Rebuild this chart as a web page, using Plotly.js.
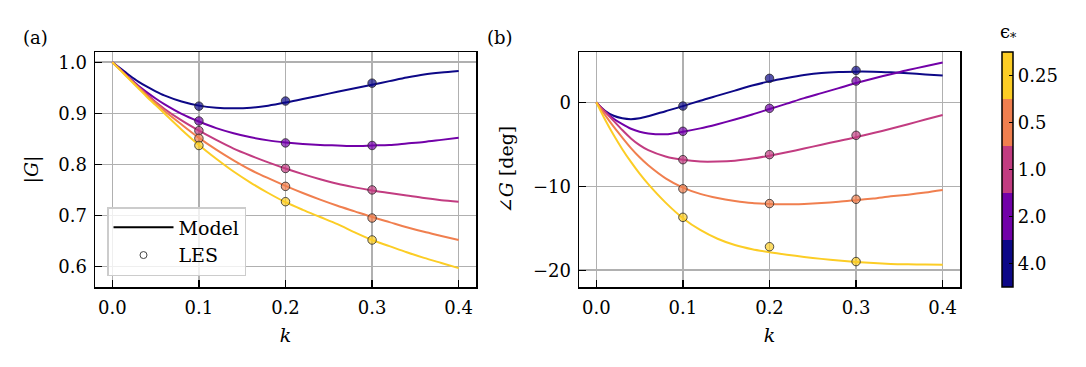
<!DOCTYPE html>
<html>
<head>
<meta charset="utf-8">
<script src="https://cdn.plot.ly/plotly-3.0.1.min.js"></script>
<style>html,body{margin:0;padding:0;background:#fff;}#chart{width:1086px;height:367px;}</style>
</head>
<body>
<div id="chart"></div>
<script>
// ---- data ----
const epsValues = ['4.0', '2.0', '1.0', '0.5', '0.25'];
const epsColors = ['#0d0887', '#7201a8', '#c23c81', '#f07f4f', '#fccd25'];

const kLES = [0.1, 0.2, 0.3];
const magLES_eps4   = [0.914, 0.924, 0.959];
const magLES_eps2   = [0.885, 0.842, 0.837];
const magLES_eps1   = [0.866, 0.792, 0.750];
const magLES_eps05  = [0.851, 0.757, 0.695];
const magLES_eps025 = [0.837, 0.727, 0.652];

const phaseLES_eps4   = [-0.44, 2.86, 3.8];
const phaseLES_eps2   = [-3.45, -0.71, 2.54];
const phaseLES_eps1   = [-6.83, -6.23, -3.93];
const phaseLES_eps05  = [-10.3, -12.06, -11.55];
const phaseLES_eps025 = [-13.7, -17.2, -18.97];

const kModel = [0, 0.01, 0.02, 0.03, 0.04, 0.05, 0.06, 0.08, 0.1, 0.12, 0.14, 0.16, 0.18, 0.2,
                0.22, 0.24, 0.26, 0.28, 0.3, 0.32, 0.34, 0.36, 0.38, 0.4];
const magModel_eps4   = [1, 0.987, 0.974, 0.962, 0.952, 0.943, 0.935, 0.923, 0.915, 0.911, 0.910, 0.911, 0.915, 0.921,
                         0.928, 0.935, 0.942, 0.949, 0.956, 0.963, 0.970, 0.976, 0.980, 0.983];
const magModel_eps2   = [1, 0.985, 0.969, 0.954, 0.941, 0.929, 0.918, 0.899, 0.884, 0.871, 0.861, 0.853, 0.847, 0.843,
                         0.840, 0.838, 0.837, 0.836, 0.837, 0.838, 0.841, 0.844, 0.848, 0.852];
const magModel_eps1   = [1, 0.984, 0.968, 0.952, 0.937, 0.922, 0.909, 0.886, 0.866, 0.848, 0.831, 0.817, 0.804, 0.792,
                         0.781, 0.771, 0.762, 0.755, 0.749, 0.744, 0.739, 0.734, 0.730, 0.727];
const magModel_eps05  = [1, 0.984, 0.967, 0.951, 0.935, 0.920, 0.905, 0.878, 0.852, 0.829, 0.808, 0.789, 0.773, 0.758,
                         0.744, 0.731, 0.719, 0.708, 0.697, 0.687, 0.677, 0.668, 0.660, 0.652];
const magModel_eps025 = [1, 0.983, 0.966, 0.949, 0.932, 0.916, 0.900, 0.868, 0.838, 0.811, 0.786, 0.764, 0.744, 0.726,
                         0.711, 0.697, 0.683, 0.667, 0.652, 0.640, 0.628, 0.617, 0.607, 0.597];

const phaseModel_eps4   = [0, -1.0, -1.6, -1.9, -2.0, -1.9, -1.65, -1.05, -0.45, 0.2, 0.8, 1.4, 2.0, 2.5,
                           2.9, 3.25, 3.5, 3.62, 3.66, 3.65, 3.58, 3.47, 3.33, 3.2];
const phaseModel_eps2   = [0, -1.1, -1.95, -2.6, -3.15, -3.5, -3.7, -3.8, -3.5, -3.1, -2.6, -2.05, -1.45, -0.8,
                           -0.15, 0.5, 1.1, 1.7, 2.3, 2.85, 3.35, 3.85, 4.3, 4.75];
const phaseModel_eps1   = [0, -1.1, -2.2, -3.3, -4.3, -5.1, -5.7, -6.45, -6.85, -7.05, -7.05, -6.95, -6.7, -6.35,
                           -5.95, -5.5, -5.05, -4.6, -4.15, -3.65, -3.15, -2.6, -2.05, -1.5];
const phaseModel_eps05  = [0, -1.5, -2.9, -4.2, -5.45, -6.55, -7.5, -9.05, -10.15, -10.9, -11.4, -11.75, -12.0, -12.1,
                           -12.15, -12.1, -12.0, -11.85, -11.65, -11.45, -11.2, -11.0, -10.75, -10.45];
const phaseModel_eps025 = [0, -2.05, -3.9, -5.58, -7.1, -8.5, -9.75, -11.95, -13.8, -15.2, -16.25, -17.0, -17.5, -17.85,
                           -18.15, -18.42, -18.65, -18.85, -19.02, -19.15, -19.25, -19.3, -19.33, -19.35];

const magModels = [magModel_eps4, magModel_eps2, magModel_eps1, magModel_eps05, magModel_eps025];
const magLES = [magLES_eps4, magLES_eps2, magLES_eps1, magLES_eps05, magLES_eps025];
const phaseModels = [phaseModel_eps4, phaseModel_eps2, phaseModel_eps1, phaseModel_eps05, phaseModel_eps025];
const phaseLES = [phaseLES_eps4, phaseLES_eps2, phaseLES_eps1, phaseLES_eps05, phaseLES_eps025];

const xTicks = [0, 0.1, 0.2, 0.3, 0.4];

// ---- build ----
function hexA(h, a) {
  const r = parseInt(h.slice(1,3),16), g = parseInt(h.slice(3,5),16), b = parseInt(h.slice(5,7),16);
  return 'rgba(' + r + ',' + g + ',' + b + ',' + a + ')';
}
const FONT = 'DejaVu Serif, serif';
const traces = [];
for (let i = 0; i < epsValues.length; i++) {
  traces.push({x: kModel, y: magModels[i], xaxis: 'x', yaxis: 'y', mode: 'lines', line: {color: epsColors[i], width: 2, shape: 'spline', smoothing: 0.8}, showlegend: false, hoverinfo: 'skip'});
  traces.push({x: kModel, y: phaseModels[i], xaxis: 'x2', yaxis: 'y2', mode: 'lines', line: {color: epsColors[i], width: 2, shape: 'spline', smoothing: 0.8}, showlegend: false, hoverinfo: 'skip'});
}
for (let i = 0; i < epsValues.length; i++) {
  const mk = {size: 8.5, color: hexA(epsColors[i], 0.7), line: {color: 'rgba(40,40,40,0.8)', width: 1}};
  traces.push({x: kLES, y: magLES[i], xaxis: 'x', yaxis: 'y', mode: 'markers', marker: mk, showlegend: false});
  traces.push({x: kLES, y: phaseLES[i], xaxis: 'x2', yaxis: 'y2', mode: 'markers', marker: mk, showlegend: false});
}
// legend entries
traces.push({x: [null], y: [null], xaxis: 'x', yaxis: 'y', mode: 'lines', name: 'Model', line: {color: 'black', width: 2}});
traces.push({x: [null], y: [null], xaxis: 'x', yaxis: 'y', mode: 'markers', name: 'LES', marker: {size: 7, color: 'rgba(255,255,255,0.7)', line: {color: '#444', width: 1}}});

// colorbar
const cs = [];
for (let i = 0; i < epsColors.length; i++) {
  cs.push([i / 5, epsColors[i]]);
  cs.push([(i + 1) / 5, epsColors[i]]);
}
traces.push({x: [null], y: [null], xaxis: 'x', yaxis: 'y', mode: 'markers', showlegend: false,
  marker: {color: [0], cmin: 0, cmax: 5, colorscale: cs, showscale: true,
    colorbar: {x: 1002/1086, xanchor: 'left', xpad: 0, y: 1 - 169.5/367, yanchor: 'middle', ypad: 0,
      len: 235/367, lenmode: 'fraction', thickness: 11, thicknessmode: 'pixels',
      outlinewidth: 1.5, outlinecolor: 'black', ticks: 'inside', ticklen: 4, tickcolor: 'black',
      tickvals: [0.5, 1.5, 2.5, 3.5, 4.5], ticktext: epsValues,
      tickfont: {family: FONT, size: 18, color: 'black'}}}});

const axBase = {showline: true, mirror: true, linecolor: 'black', linewidth: 1.5,
  ticks: 'inside', ticklen: 7, tickwidth: 1.2, tickcolor: 'black',
  showgrid: true, gridcolor: '#b0b0b0', gridwidth: 1.5, zeroline: false,
  tickfont: {family: FONT, size: 18, color: 'black'}};
const yDom = [1 - 287/367, 1 - 52/367];
const layout = {
  width: 1086, height: 367, margin: {l: 0, r: 0, t: 0, b: 0},
  paper_bgcolor: 'white', plot_bgcolor: 'white',
  font: {family: FONT, color: 'black'},
  xaxis: Object.assign({}, axBase, {domain: [95/1086, 476/1086], range: [-0.02, 0.42], tickvals: xTicks, tickformat: '.1f', anchor: 'y',
    ticklabelstandoff: 4, title: {text: '<i>k</i>', font: {family: FONT, size: 19}, standoff: 11}}),
  yaxis: Object.assign({}, axBase, {domain: yDom, range: [0.56, 1.02], dtick: 0.1, tick0: 0, tickformat: '.1f', anchor: 'x',
    ticklabelstandoff: 3, title: {text: '|<i>G</i>|', font: {family: FONT, size: 19}, standoff: 14}}),
  xaxis2: Object.assign({}, axBase, {domain: [579/1086, 960/1086], range: [-0.02, 0.42], tickvals: xTicks, tickformat: '.1f', anchor: 'y2',
    ticklabelstandoff: 4, title: {text: '<i>k</i>', font: {family: FONT, size: 19}, standoff: 11}}),
  yaxis2: Object.assign({}, axBase, {domain: yDom, range: [-22, 6], dtick: 10, tick0: 0, anchor: 'x2',
    ticklabelstandoff: 3, title: {text: '∠<i>G</i> [deg]', font: {family: FONT, size: 19}, standoff: 14}}),
  legend: {x: 107/1086, y: 1 - 207/367, xanchor: 'left', yanchor: 'top',
    bgcolor: 'rgba(255,255,255,0.8)', bordercolor: '#cccccc', borderwidth: 1.5,
    font: {family: FONT, size: 19, color: 'black'}, itemwidth: 60, tracegroupgap: 4},
  annotations: [
    {text: '(a)', xref: 'paper', yref: 'paper', x: 35/1086, y: 1 - 37/367, xanchor: 'center', yanchor: 'middle', showarrow: false, font: {family: FONT, size: 18}},
    {text: '(b)', xref: 'paper', yref: 'paper', x: 500/1086, y: 1 - 37/367, xanchor: 'center', yanchor: 'middle', showarrow: false, font: {family: FONT, size: 18}},
    {text: 'ϵ<sub>*</sub>', xref: 'paper', yref: 'paper', x: 1008/1086, y: 1 - 33/367, xanchor: 'center', yanchor: 'middle', showarrow: false, font: {family: FONT, size: 18}}
  ]
};
Plotly.newPlot('chart', traces, layout, {staticPlot: true});
</script>
</body>
</html>
